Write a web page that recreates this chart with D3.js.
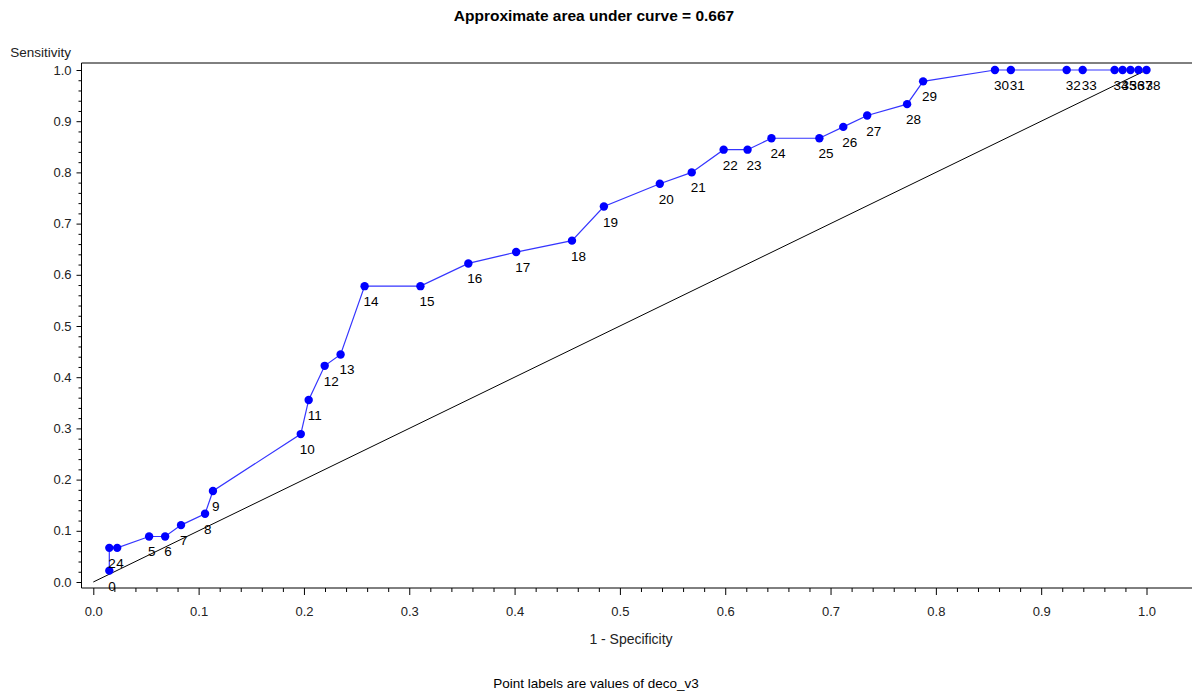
<!DOCTYPE html>
<html>
<head>
<meta charset="utf-8">
<script src="https://cdn.jsdelivr.net/npm/d3@7"></script>
<style>
  html, body { margin: 0; padding: 0; background: #fff; }
  svg { display: block; font-family: "Liberation Sans", Arial, sans-serif; }
</style>
</head>
<body>
<svg id="chart" width="1192" height="695"></svg>
<script>
// ---- data ----
const labels = [0, 2, 4, 5, 6, 7, 8, 9, 10, 11, 12, 13, 14, 15, 16, 17, 18, 19, 20, 21, 22, 23, 24, 25, 26, 27, 28, 29, 30, 31, 32, 33, 34, 35, 36, 37, 38];
const fpr = [0.0152, 0.0152, 0.0227, 0.0530, 0.0682, 0.0833, 0.1061, 0.1136, 0.1970, 0.2045, 0.2197, 0.2348, 0.2576, 0.3106, 0.3561, 0.4015, 0.4545, 0.4848, 0.5379, 0.5682, 0.5985, 0.6212, 0.6439, 0.6894, 0.7121, 0.7348, 0.7727, 0.7879, 0.8561, 0.8712, 0.9242, 0.9394, 0.9697, 0.9773, 0.9848, 0.9924, 1.0000];
const tpr = [0.0222, 0.0667, 0.0667, 0.0889, 0.0889, 0.1111, 0.1333, 0.1778, 0.2889, 0.3556, 0.4222, 0.4444, 0.5778, 0.5778, 0.6222, 0.6444, 0.6667, 0.7333, 0.7778, 0.8000, 0.8444, 0.8444, 0.8667, 0.8667, 0.8889, 0.9111, 0.9333, 0.9778, 1.0, 1.0, 1.0, 1.0, 1.0, 1.0, 1.0, 1.0, 1.0];
const majorTicks = [0.0, 0.1, 0.2, 0.3, 0.4, 0.5, 0.6, 0.7, 0.8, 0.9, 1.0];
const minorTicks = [0.02, 0.04, 0.06, 0.08, 0.12, 0.14, 0.16, 0.18, 0.22, 0.24, 0.26, 0.28, 0.32, 0.34, 0.36, 0.38, 0.42, 0.44, 0.46, 0.48, 0.52, 0.54, 0.56, 0.58, 0.62, 0.64, 0.66, 0.68, 0.72, 0.74, 0.76, 0.78, 0.82, 0.84, 0.86, 0.88, 0.92, 0.94, 0.96, 0.98];
const titleText = "Approximate area under curve = 0.667";
const xTitle = "1 - Specificity";
const yTitle = "Sensitivity";
const footnote = "Point labels are values of deco_v3";

// ---- layout ----
const W = 1192, H = 695;
const frameLeft = 81.5, frameRight = 1192, frameTop = 63, frameBottom = 588;
const x = d3.scaleLinear().domain([0, 1]).range([93.3, 1146.5]);
const y = d3.scaleLinear().domain([0, 1]).range([582, 70]);

const svg = d3.select("#chart");

// frame lines
svg.append("line").attr("x1", frameLeft).attr("x2", frameRight).attr("y1", frameTop).attr("y2", frameTop)
  .attr("stroke", "#000").attr("stroke-width", 1);
svg.append("line").attr("x1", frameLeft).attr("x2", frameRight).attr("y1", frameBottom).attr("y2", frameBottom)
  .attr("stroke", "#000").attr("stroke-width", 1);
svg.append("line").attr("x1", frameLeft).attr("x2", frameLeft).attr("y1", frameTop).attr("y2", frameBottom)
  .attr("stroke", "#000").attr("stroke-width", 1);

// x axis
const xAxisG = svg.append("g").attr("transform", `translate(0,${frameBottom})`)
  .call(d3.axisBottom(x).tickValues(majorTicks).tickFormat(d3.format(".1f")).tickSize(7).tickPadding(12));
const xMinorG = svg.append("g").attr("transform", `translate(0,${frameBottom})`)
  .call(d3.axisBottom(x).tickValues(minorTicks).tickFormat("").tickSize(4));
// y axis
const yAxisG = svg.append("g").attr("transform", `translate(${frameLeft},0)`)
  .call(d3.axisLeft(y).tickValues(majorTicks).tickFormat(d3.format(".1f")).tickSize(5).tickPadding(5));
const yMinorG = svg.append("g").attr("transform", `translate(${frameLeft},0)`)
  .call(d3.axisLeft(y).tickValues(minorTicks).tickFormat("").tickSize(3));
[xAxisG, xMinorG, yAxisG, yMinorG].forEach(g => {
  g.select(".domain").remove();
  g.selectAll(".tick line").attr("stroke", "#000");
  g.selectAll(".tick text").attr("fill", "#222").style("font-size", "13px")
    .style("font-family", '"Liberation Sans", Arial, sans-serif');
});

// diagonal reference line
svg.append("line")
  .attr("x1", x(0)).attr("y1", y(0)).attr("x2", x(1)).attr("y2", y(1))
  .attr("stroke", "#000").attr("stroke-width", 1);

// ROC curve
const pts = labels.map((l, i) => ({ label: l, fx: fpr[i], ty: tpr[i] }));
svg.append("path").datum(pts)
  .attr("fill", "none").attr("stroke", "#3535ff").attr("stroke-width", 1.2)
  .attr("d", d3.line().x(d => x(d.fx)).y(d => y(d.ty)));

svg.append("g").selectAll("circle").data(pts).join("circle")
  .attr("cx", d => x(d.fx)).attr("cy", d => y(d.ty)).attr("r", 4.2)
  .attr("fill", "#0000ff");

svg.append("g").selectAll("text").data(pts).join("text")
  .attr("x", d => x(d.fx) - 1).attr("y", d => y(d.ty) + 20)
  .attr("fill", "#000").style("font-size", "13.5px")
  .text(d => d.label);

// titles
svg.append("text").attr("x", 594).attr("y", 21).attr("text-anchor", "middle")
  .style("font-size", "15.5px").style("font-weight", "bold").attr("fill", "#000").text(titleText);
svg.append("text").attr("x", 71).attr("y", 57).attr("text-anchor", "end")
  .style("font-size", "13.5px").attr("fill", "#222").text(yTitle);
svg.append("text").attr("x", 631).attr("y", 644).attr("text-anchor", "middle")
  .style("font-size", "14px").attr("fill", "#222").text(xTitle);
svg.append("text").attr("x", 596).attr("y", 688).attr("text-anchor", "middle")
  .style("font-size", "13.5px").attr("fill", "#000").text(footnote);
</script>
</body>
</html>
